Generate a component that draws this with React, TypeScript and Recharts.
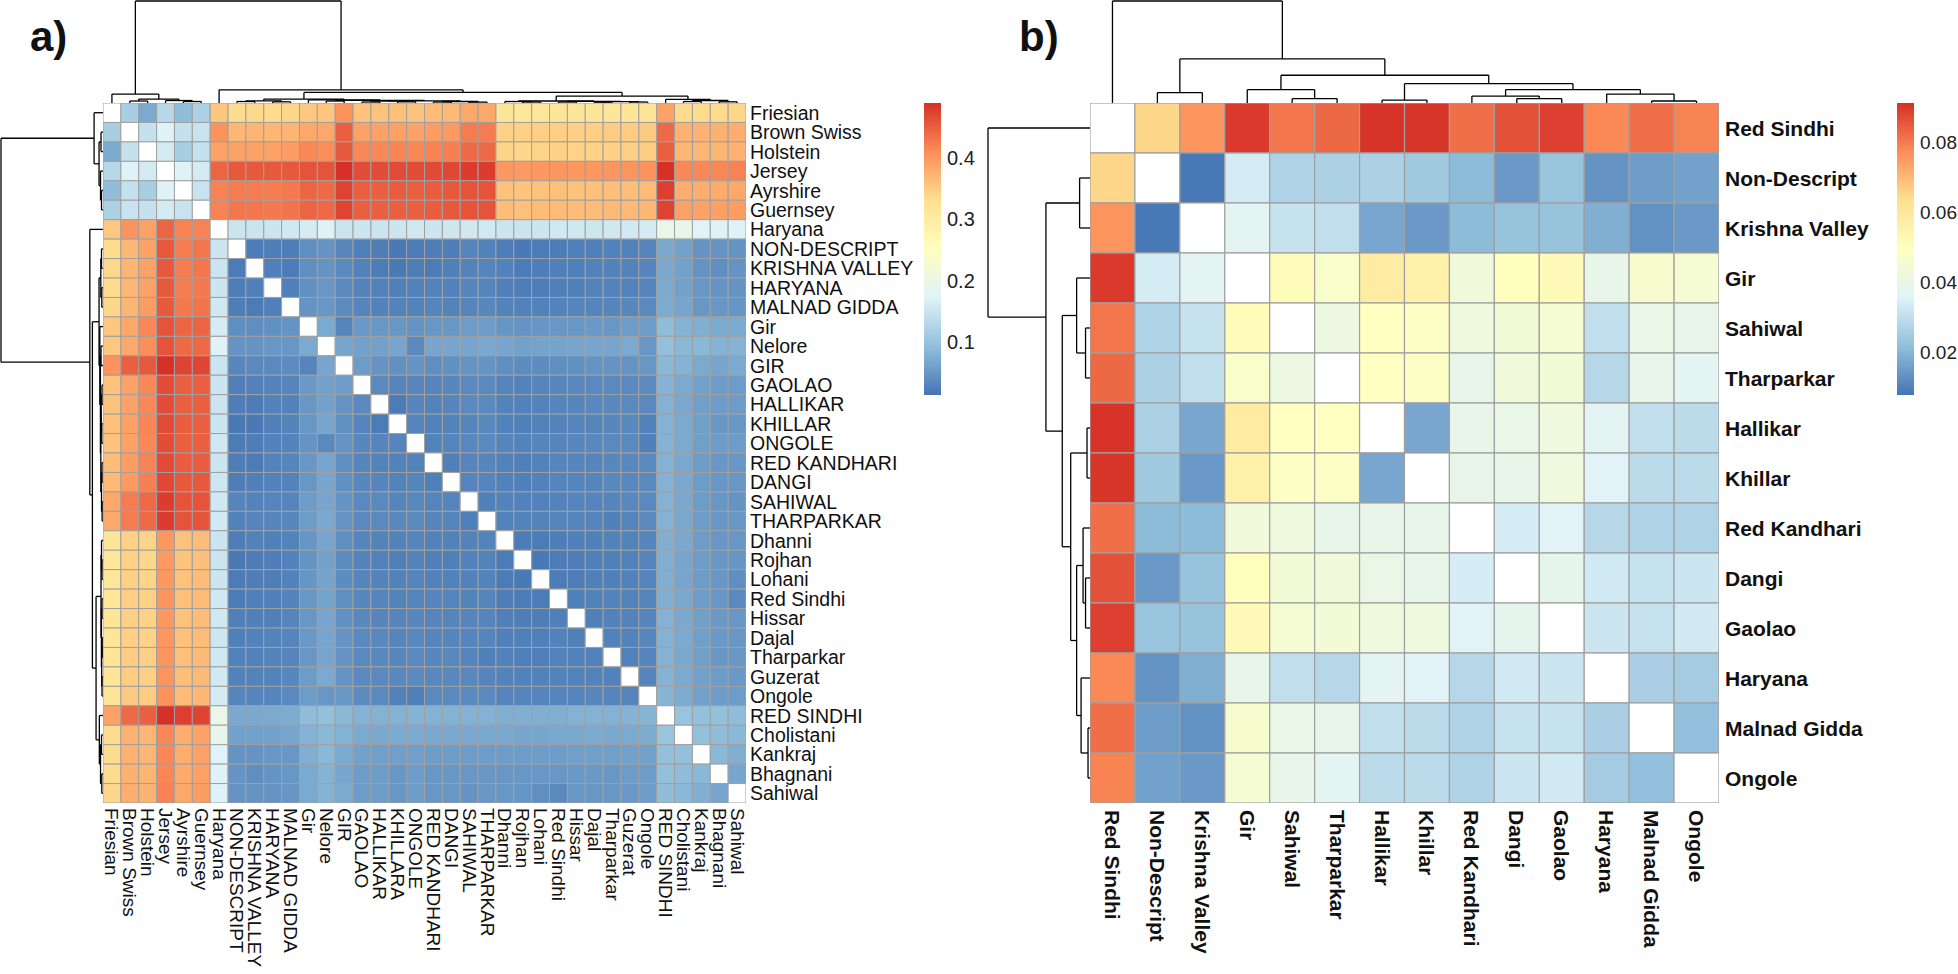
import React from "react";
import { ScatterChart, Scatter, XAxis, YAxis, ReferenceLine, ReferenceArea } from "recharts";

// ---------- panel a ----------
const breedsA = [
  "Friesian", "Brown Swiss", "Holstein", "Jersey", "Ayrshire", "Guernsey", "Haryana",
  "NON-DESCRIPT", "KRISHNA VALLEY", "HARYANA", "MALNAD GIDDA", "Gir", "Nelore", "GIR",
  "GAOLAO", "HALLIKAR", "KHILLAR", "ONGOLE", "RED KANDHARI", "DANGI", "SAHIWAL",
  "THARPARKAR", "Dhanni", "Rojhan", "Lohani", "Red Sindhi", "Hissar", "Dajal",
  "Tharparkar", "Guzerat", "Ongole", "RED SINDHI", "Cholistani", "Kankraj", "Bhagnani", "Sahiwal",
];
// column labels as printed (KHILLARA on the x axis)
const colLabelsA = breedsA.map((b) => (b === "KHILLAR" ? "KHILLARA" : b));

// Fst, lower triangle (row i holds columns 0..i-1), diagonal is empty
const fstA: number[][] = [
  [],
  [0.115],
  [0.07, 0.145],
  [0.13, 0.17, 0.16],
  [0.09, 0.145, 0.115, 0.17],
  [0.12, 0.148, 0.145, 0.16, 0.148],
  [0.355, 0.405, 0.39, 0.445, 0.42, 0.42],
  [0.335, 0.37, 0.39, 0.455, 0.425, 0.43, 0.15],
  [0.338, 0.372, 0.39, 0.455, 0.425, 0.43, 0.15, 0.02],
  [0.336, 0.37, 0.39, 0.455, 0.425, 0.428, 0.152, 0.022, 0.025],
  [0.34, 0.372, 0.395, 0.455, 0.428, 0.432, 0.155, 0.022, 0.02, 0.025],
  [0.355, 0.385, 0.415, 0.46, 0.445, 0.445, 0.162, 0.04, 0.04, 0.042, 0.045],
  [0.355, 0.385, 0.41, 0.46, 0.44, 0.44, 0.17, 0.045, 0.045, 0.05, 0.05, 0.07],
  [0.405, 0.45, 0.455, 0.49, 0.475, 0.472, 0.15, 0.032, 0.035, 0.035, 0.037, 0.03, 0.065],
  [0.36, 0.39, 0.415, 0.465, 0.45, 0.45, 0.152, 0.025, 0.027, 0.028, 0.03, 0.052, 0.06, 0.055],
  [0.36, 0.39, 0.415, 0.465, 0.45, 0.45, 0.15, 0.022, 0.02, 0.027, 0.027, 0.05, 0.06, 0.045, 0.035],
  [0.362, 0.392, 0.418, 0.466, 0.452, 0.45, 0.152, 0.018, 0.018, 0.025, 0.028, 0.05, 0.065, 0.042, 0.03, 0.02],
  [0.36, 0.39, 0.415, 0.465, 0.45, 0.45, 0.155, 0.02, 0.022, 0.027, 0.028, 0.045, 0.035, 0.045, 0.032, 0.03, 0.03],
  [0.365, 0.395, 0.42, 0.468, 0.452, 0.452, 0.152, 0.022, 0.02, 0.028, 0.03, 0.05, 0.065, 0.04, 0.03, 0.028, 0.027, 0.028],
  [0.368, 0.398, 0.422, 0.47, 0.455, 0.455, 0.153, 0.022, 0.025, 0.027, 0.028, 0.05, 0.065, 0.042, 0.032, 0.03, 0.028, 0.03, 0.025],
  [0.385, 0.425, 0.44, 0.48, 0.46, 0.46, 0.155, 0.03, 0.028, 0.03, 0.03, 0.055, 0.065, 0.045, 0.035, 0.035, 0.03, 0.033, 0.03, 0.03],
  [0.385, 0.425, 0.44, 0.48, 0.46, 0.46, 0.157, 0.027, 0.03, 0.03, 0.032, 0.055, 0.068, 0.045, 0.035, 0.035, 0.033, 0.035, 0.03, 0.03, 0.025],
  [0.315, 0.345, 0.342, 0.4, 0.36, 0.365, 0.152, 0.022, 0.027, 0.025, 0.028, 0.048, 0.065, 0.04, 0.03, 0.028, 0.027, 0.03, 0.027, 0.027, 0.028, 0.028],
  [0.312, 0.345, 0.34, 0.398, 0.358, 0.362, 0.15, 0.018, 0.02, 0.022, 0.027, 0.045, 0.06, 0.038, 0.028, 0.027, 0.025, 0.028, 0.025, 0.025, 0.027, 0.028, 0.02],
  [0.314, 0.346, 0.342, 0.4, 0.36, 0.365, 0.152, 0.02, 0.022, 0.022, 0.027, 0.048, 0.062, 0.038, 0.03, 0.028, 0.027, 0.03, 0.027, 0.027, 0.027, 0.028, 0.02, 0.018],
  [0.316, 0.348, 0.345, 0.402, 0.362, 0.366, 0.155, 0.02, 0.025, 0.025, 0.028, 0.05, 0.062, 0.04, 0.032, 0.03, 0.028, 0.03, 0.03, 0.03, 0.028, 0.03, 0.022, 0.02, 0.02],
  [0.315, 0.346, 0.343, 0.4, 0.36, 0.365, 0.155, 0.025, 0.025, 0.025, 0.03, 0.05, 0.065, 0.042, 0.033, 0.03, 0.03, 0.032, 0.03, 0.03, 0.03, 0.03, 0.025, 0.022, 0.022, 0.025],
  [0.316, 0.347, 0.344, 0.401, 0.361, 0.365, 0.153, 0.025, 0.027, 0.028, 0.03, 0.052, 0.065, 0.045, 0.035, 0.033, 0.03, 0.033, 0.03, 0.03, 0.03, 0.03, 0.025, 0.025, 0.025, 0.027, 0.025],
  [0.318, 0.35, 0.346, 0.403, 0.363, 0.367, 0.155, 0.027, 0.027, 0.028, 0.03, 0.05, 0.065, 0.045, 0.035, 0.033, 0.032, 0.035, 0.032, 0.033, 0.03, 0.025, 0.027, 0.025, 0.025, 0.028, 0.027, 0.027],
  [0.318, 0.35, 0.347, 0.404, 0.364, 0.368, 0.157, 0.027, 0.028, 0.028, 0.032, 0.055, 0.07, 0.045, 0.035, 0.035, 0.033, 0.035, 0.033, 0.033, 0.033, 0.03, 0.028, 0.027, 0.027, 0.028, 0.028, 0.028, 0.027],
  [0.32, 0.352, 0.35, 0.405, 0.366, 0.37, 0.16, 0.03, 0.03, 0.03, 0.035, 0.055, 0.05, 0.05, 0.038, 0.035, 0.027, 0.025, 0.035, 0.035, 0.035, 0.035, 0.03, 0.03, 0.03, 0.03, 0.03, 0.032, 0.03, 0.03],
  [0.39, 0.44, 0.45, 0.49, 0.478, 0.475, 0.195, 0.068, 0.068, 0.07, 0.072, 0.09, 0.095, 0.085, 0.08, 0.078, 0.078, 0.08, 0.078, 0.078, 0.078, 0.078, 0.075, 0.075, 0.075, 0.075, 0.078, 0.078, 0.078, 0.08, 0.082],
  [0.335, 0.375, 0.37, 0.415, 0.38, 0.39, 0.193, 0.06, 0.06, 0.06, 0.065, 0.08, 0.085, 0.08, 0.07, 0.068, 0.07, 0.07, 0.068, 0.068, 0.068, 0.068, 0.068, 0.065, 0.065, 0.068, 0.068, 0.07, 0.068, 0.07, 0.072, 0.1],
  [0.335, 0.375, 0.37, 0.415, 0.38, 0.39, 0.172, 0.045, 0.045, 0.05, 0.05, 0.075, 0.085, 0.07, 0.06, 0.058, 0.058, 0.058, 0.055, 0.055, 0.055, 0.055, 0.055, 0.055, 0.055, 0.055, 0.058, 0.058, 0.058, 0.06, 0.06, 0.095, 0.095],
  [0.336, 0.376, 0.372, 0.416, 0.382, 0.392, 0.17, 0.045, 0.04, 0.045, 0.05, 0.07, 0.08, 0.065, 0.055, 0.055, 0.05, 0.055, 0.05, 0.05, 0.05, 0.05, 0.05, 0.05, 0.05, 0.05, 0.052, 0.052, 0.05, 0.055, 0.055, 0.095, 0.09, 0.085],
  [0.34, 0.38, 0.375, 0.42, 0.385, 0.395, 0.17, 0.045, 0.045, 0.045, 0.048, 0.07, 0.08, 0.07, 0.055, 0.055, 0.05, 0.055, 0.05, 0.05, 0.045, 0.05, 0.05, 0.048, 0.04, 0.035, 0.05, 0.05, 0.05, 0.052, 0.055, 0.09, 0.085, 0.075, 0.065],
];

// clustering tree: leaf = index, node = [left, right, merge height]
const treeA: any = [
  [0, [[1, 2, 2], [3, [4, 5, 1.5], 2.5], 4], 9],
  [6,
    [
      [[[7, 8, 1.5], [9, 10, 1.2], 2.2],
        [11, [[12, 13, 2], [[[14, 15, 1], [16, 17, 1.2], 1.8], [[18, 19, 1], [20, 21, 0.9], 1.5], 2.2], 2.6], 3.2], 4],
      [[[22, [23, 24, 1], 1.5], [[25, 26, 1], [[27, 28, 0.8], [29, 30, 1], 1.3], 1.6], 2],
        [31, [[32, 33, 1.5], [34, 35, 1.2], 2.5], 3.7], 7],
      10.7],
    13.3],
  103,
];
const rangeA: [number, number] = [0.013, 0.49];
const ticksA = [0.1, 0.2, 0.3, 0.4];

// ---------- panel b ----------
const breedsB = [
  "Red Sindhi", "Non-Descript", "Krishna Valley", "Gir", "Sahiwal", "Tharparkar", "Hallikar",
  "Khillar", "Red Kandhari", "Dangi", "Gaolao", "Haryana", "Malnad Gidda", "Ongole",
];
const fstB: number[][] = [
  [],
  [0.065],
  [0.0763, 0.0085],
  [0.09, 0.0337, 0.037],
  [0.081, 0.027, 0.031, 0.051],
  [0.083, 0.0265, 0.03, 0.047, 0.041],
  [0.091, 0.0265, 0.017, 0.058, 0.049, 0.049],
  [0.0905, 0.0245, 0.0144, 0.056, 0.048, 0.048, 0.017],
  [0.082, 0.021, 0.021, 0.043, 0.042, 0.039, 0.039, 0.039],
  [0.0864, 0.0144, 0.0228, 0.05, 0.044, 0.043, 0.04, 0.039, 0.034],
  [0.089, 0.023, 0.0228, 0.052, 0.045, 0.044, 0.042, 0.042, 0.036, 0.038],
  [0.078, 0.0136, 0.0186, 0.039, 0.03, 0.028, 0.037, 0.036, 0.028, 0.033, 0.032],
  [0.082, 0.0152, 0.0131, 0.046, 0.04, 0.039, 0.03, 0.029, 0.027, 0.031, 0.031, 0.026],
  [0.079, 0.016, 0.0144, 0.045, 0.039, 0.037, 0.029, 0.029, 0.027, 0.032, 0.033, 0.025, 0.022],
];
const treeB: any = [
  0,
  [[1, 2, 10.5],
    [[3, [4, 5, 4.5], 13.5],
      [[6, 7, 3], [[8, [9, 10, 4.5], 7], [11, [12, 13, 2], 9], 13.5], 19.5],
      28],
    44.5],
  103,
];
const rangeB: [number, number] = [0.0077, 0.0914];
const ticksB = [0.02, 0.04, 0.06, 0.08];

// RdYlBu reversed, as pheatmap uses
const palette = ["#4575B4", "#91BFDB", "#E0F3F8", "#FFFFBF", "#FEE090", "#FC8D59", "#D73027"];

const FONT = "'Liberation Sans', Arial, sans-serif";

function hexToRgb(h: string) {
  return [1, 3, 5].map((k) => parseInt(h.slice(k, k + 2), 16));
}

function colorOf(v: number, range: [number, number]) {
  const t = Math.min(1, Math.max(0, (v - range[0]) / (range[1] - range[0])));
  const s = t * (palette.length - 1);
  const k = Math.min(palette.length - 2, Math.floor(s));
  const f = s - k;
  const a = hexToRgb(palette[k]);
  const b = hexToRgb(palette[k + 1]);
  const c = a.map((x, i) => Math.round(x + (b[i] - x) * f));
  return `rgb(${c[0]},${c[1]},${c[2]})`;
}

function cellValue(low: number[][], i: number, j: number) {
  if (i === j) return null;
  return i > j ? low[i][j] : low[j][i];
}

// walk the tree, collect the elbow segments [pos1, h1, pos2, h2]
function layoutTree(node: any, segs: number[][]): { p: number; h: number } {
  if (typeof node === "number") return { p: node + 0.5, h: 0 };
  const L = layoutTree(node[0], segs);
  const R = layoutTree(node[1], segs);
  const h = node[2];
  segs.push([L.p, L.h, L.p, h], [L.p, h, R.p, h], [R.p, h, R.p, R.h]);
  return { p: (L.p + R.p) / 2, h };
}

const PAD = 14; // room left of the cells so the first rotated label is not clipped

function Heatmap(props: any) {
  const { rows, cols, low, range, left, top, plotW, plotH, labelW, labelH, rowFont, colFont, bold, rowGap, colGap, border } = props;
  const n = rows.length;
  const cw = plotW / n;
  const ch = plotH / n;
  const cells: any[] = [];
  for (let i = 0; i < n; i++) {
    for (let j = 0; j < n; j++) {
      const v = cellValue(low, i, j);
      cells.push({ x: j + 0.5, y: i + 0.5, fill: v == null ? "#FFFFFF" : colorOf(v, range) });
    }
  }
  const ticks = rows.map((_: string, i: number) => i + 0.5);
  return (
    <div style={{ position: "absolute", left: left - PAD, top }}>
      <ScatterChart width={PAD + plotW + labelW} height={plotH + labelH} margin={{ top: 0, right: 0, bottom: 0, left: PAD }}>
        <XAxis
          type="number"
          dataKey="x"
          domain={[0, n]}
          allowDataOverflow
          ticks={ticks}
          interval={0}
          tickLine={false}
          axisLine={false}
          tickSize={0}
          tickMargin={0}
          height={labelH}
          tick={(t: any) => (
            <text
              transform={`translate(${t.x},${t.y + colGap}) rotate(90)`}
              dominantBaseline="central"
              textAnchor="start"
              fontSize={colFont}
              fontFamily={FONT}
              fontWeight={bold ? 700 : 400}
              fill="#111"
            >
              {cols[Math.floor(t.payload.value)]}
            </text>
          )}
        />
        <YAxis
          type="number"
          dataKey="y"
          domain={[0, n]}
          allowDataOverflow
          reversed
          orientation="right"
          ticks={ticks}
          interval={0}
          tickLine={false}
          axisLine={false}
          tickSize={0}
          tickMargin={0}
          width={labelW}
          tick={(t: any) => (
            <text
              x={t.x + rowGap}
              y={t.y}
              dominantBaseline="central"
              textAnchor="start"
              fontSize={rowFont}
              fontFamily={FONT}
              fontWeight={bold ? 700 : 400}
              fill="#111"
            >
              {rows[Math.floor(t.payload.value)]}
            </text>
          )}
        />
        <Scatter
          data={cells}
          isAnimationActive={false}
          shape={(s: any) => (
            <rect
              x={s.cx - cw / 2}
              y={s.cy - ch / 2}
              width={cw}
              height={ch}
              fill={s.payload.fill}
              stroke="#A0A0A0"
              strokeWidth={border}
            />
          )}
        />
      </ScatterChart>
    </div>
  );
}

function Dendrogram(props: any) {
  const { tree, n, side, left, top, width, height, maxH } = props;
  const segs: number[][] = [];
  layoutTree(tree, segs);
  const isTop = side === "top";
  const pt = (p: number, h: number) => (isTop ? { x: p, y: h } : { x: h, y: p });
  const leaves = Array.from({ length: n }, (_, i) => pt(i + 0.5, 0));
  return (
    <div style={{ position: "absolute", left, top }}>
      <ScatterChart
        width={width}
        height={height}
        margin={isTop ? { top: 1, right: 0, bottom: 0, left: 0 } : { top: 0, right: 0, bottom: 0, left: 1 }}
      >
        <XAxis type="number" dataKey="x" domain={isTop ? [0, n] : [0, maxH]} reversed={!isTop} allowDataOverflow hide />
        <YAxis type="number" dataKey="y" domain={isTop ? [0, maxH] : [0, n]} reversed={!isTop} allowDataOverflow hide />
        <Scatter data={leaves} isAnimationActive={false} shape={() => <g />} />
        {segs.map((s, k) => (
          <ReferenceLine
            key={k}
            segment={[pt(s[0], s[1]), pt(s[2], s[3])]}
            stroke="#000"
            strokeWidth={1.3}
            ifOverflow="visible"
          />
        ))}
      </ScatterChart>
    </div>
  );
}

function ColorBar(props: any) {
  const { id, left, top, width, height, range, ticks, gap, font } = props;
  return (
    <div style={{ position: "absolute", left, top }}>
      <ScatterChart width={width + 60} height={height} margin={{ top: 0, right: 0, bottom: 0, left: 0 }}>
        <defs>
          <linearGradient id={id} x1="0" y1="0" x2="0" y2="1">
            {palette
              .slice()
              .reverse()
              .map((c, k) => (
                <stop key={k} offset={k / (palette.length - 1)} stopColor={c} />
              ))}
          </linearGradient>
        </defs>
        <XAxis type="number" dataKey="x" domain={[0, 1]} allowDataOverflow hide />
        <YAxis
          type="number"
          dataKey="y"
          domain={range}
          allowDataOverflow
          orientation="right"
          ticks={ticks}
          interval={0}
          width={60}
          tickLine={false}
          axisLine={false}
          tickSize={0}
          tickMargin={0}
          tick={(t: any) => (
            <text x={t.x + gap} y={t.y} dominantBaseline="central" fontSize={font} fontFamily={FONT} fill="#222">
              {String(t.payload.value)}
            </text>
          )}
        />
        <Scatter data={[{ x: 0.5, y: range[0] }, { x: 0.5, y: range[1] }]} isAnimationActive={false} shape={() => <g />} />
        <ReferenceArea x1={0} x2={1} y1={range[0]} y2={range[1]} fill={`url(#${id})`} fillOpacity={1} stroke="none" ifOverflow="visible" />
      </ScatterChart>
    </div>
  );
}

export default function App() {
  return (
    <div style={{ position: "absolute", left: 0, top: 0, width: 1958, height: 974, background: "#fff", overflow: "hidden", fontFamily: FONT }}>
      <div style={{ position: "absolute", left: 30, top: 16, fontSize: 42, fontWeight: 700, lineHeight: 1, color: "#111" }}>a)</div>
      <div style={{ position: "absolute", left: 1019, top: 16, fontSize: 42, fontWeight: 700, lineHeight: 1, color: "#111" }}>b)</div>

      <Dendrogram tree={treeA} n={36} side="top" left={103} top={0} width={643} height={103} maxH={103} />
      <Dendrogram tree={treeA} n={36} side="left" left={0} top={103} width={103} height={700} maxH={103} />
      <Heatmap
        rows={breedsA}
        cols={colLabelsA}
        low={fstA}
        range={rangeA}
        left={103}
        top={103}
        plotW={643}
        plotH={700}
        labelW={175}
        labelH={168}
        rowFont={19.5}
        colFont={19}
        bold={false}
        rowGap={4}
        colGap={5}
        border={1}
      />
      <ColorBar id="barA" left={924} top={103} width={17} height={292} range={rangeA} ticks={ticksA} gap={6} font={20} />

      <Dendrogram tree={treeB} n={14} side="top" left={1090} top={0} width={629} height={103} maxH={103} />
      <Dendrogram tree={treeB} n={14} side="left" left={987} top={103} width={103} height={700} maxH={103} />
      <Heatmap
        rows={breedsB}
        cols={breedsB}
        low={fstB}
        range={rangeB}
        left={1090}
        top={103}
        plotW={629}
        plotH={700}
        labelW={175}
        labelH={168}
        rowFont={21}
        colFont={21}
        bold={true}
        rowGap={6}
        colGap={7}
        border={1.2}
      />
      <ColorBar id="barB" left={1897} top={103} width={17} height={292} range={rangeB} ticks={ticksB} gap={6} font={19} />
    </div>
  );
}
